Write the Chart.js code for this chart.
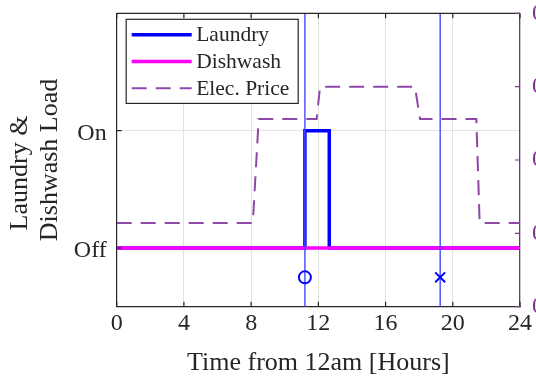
<!DOCTYPE html>
<html>
<head>
<meta charset="utf-8">
<script src="https://cdn.jsdelivr.net/npm/chart.js@4.4.1/dist/chart.umd.min.js"></script>
<style>
  body { margin: 0; background: #fff; }
  canvas { display: block; }
</style>
</head>
<body>
<canvas id="loadChart" width="536" height="383"></canvas>
<script>
// Hours on the x axis
const hourTicks = [0, 4, 8, 12, 16, 20, 24];

// Appliance states (0 = Off, 1 = On)
const stateLabels = ['Off', 'On'];
const laundryTimes = [0, 11.2, 11.2, 12.65, 12.65, 24];
const laundryState = [0, 0, 1, 1, 0, 0];
const dishTimes = [0, 24];
const dishState = [0, 0];

// Time-of-use electricity price
const priceTimes = [0, 8.1, 8.45, 11.9, 12.1, 17.75, 18.05, 21.4, 21.6, 24];
const priceValues = [0.057, 0.057, 0.128, 0.128, 0.15, 0.15, 0.128, 0.128, 0.057, 0.057];
const priceTicks = [0, 0.05, 0.1, 0.15, 0.2];

// Start / deadline markers
const startTime = 11.2;
const deadlineTime = 19.25;
const markerLevel = -0.25;

const stateMin = -0.5, stateMax = 2;
const axisColor = '#262626';
const purple = '#7e2f8e';
const serif = 'Liberation Serif';

const pts = (xs, ys) => xs.map((x, i) => ({ x: x, y: ys[i] }));

// keep tick labels from pushing the plot area around
const noPad = s => { s.paddingTop = 0; s.paddingBottom = 0; s.paddingLeft = 0; s.paddingRight = 0; };

// Frame, top border and inward tick marks
const frame = {
  id: 'frame',
  afterDatasetsDraw(chart) {
    const { ctx, chartArea: a, scales } = chart;
    const len = 5;
    ctx.save();
    ctx.lineWidth = 1.2;
    ctx.strokeStyle = axisColor;
    ctx.beginPath();
    ctx.moveTo(a.left, a.top);
    ctx.lineTo(a.right, a.top);
    scales.x.ticks.forEach(t => {
      const px = scales.x.getPixelForValue(t.value);
      ctx.moveTo(px, a.top); ctx.lineTo(px, a.top + len);
      ctx.moveTo(px, a.bottom); ctx.lineTo(px, a.bottom - len);
    });
    scales.y.ticks.forEach(t => {
      const py = scales.y.getPixelForValue(t.value);
      ctx.moveTo(a.left, py); ctx.lineTo(a.left + len, py);
    });
    ctx.stroke();
    ctx.strokeStyle = purple;
    ctx.beginPath();
    scales.y2.ticks.forEach(t => {
      const py = scales.y2.getPixelForValue(t.value);
      ctx.moveTo(a.right, py); ctx.lineTo(a.right - len, py);
    });
    ctx.stroke();
    ctx.restore();
  }
};

// Boxed legend in the upper left of the plot
const boxLegend = {
  id: 'boxLegend',
  afterDraw(chart) {
    const { ctx, chartArea: a } = chart;
    const items = chart.data.datasets.filter(d => d.label);
    const x0 = a.left + 9.5, y0 = a.top + 6;
    const w = 172, rowH = 26.7;
    const h = items.length * rowH + 4;
    ctx.save();
    ctx.fillStyle = '#fff';
    ctx.fillRect(x0, y0, w, h);
    ctx.lineWidth = 1.2;
    ctx.strokeStyle = axisColor;
    ctx.strokeRect(x0, y0, w, h);
    ctx.font = '21.5px "' + serif + '"';
    ctx.textBaseline = 'middle';
    items.forEach((d, i) => {
      const cy = y0 + 15.5 + i * rowH;
      ctx.beginPath();
      ctx.strokeStyle = d.borderColor;
      ctx.lineWidth = d.borderWidth;
      ctx.setLineDash(d.borderDash || []);
      ctx.moveTo(x0 + 5.5, cy);
      ctx.lineTo(x0 + 65.5, cy);
      ctx.stroke();
      ctx.setLineDash([]);
      ctx.fillStyle = axisColor;
      ctx.fillText(d.label, x0 + 70, cy + 1);
    });
    ctx.restore();
  }
};

new Chart(document.getElementById('loadChart'), {
  type: 'line',
  data: {
    datasets: [
      {
        label: 'Laundry',
        data: pts(laundryTimes, laundryState),
        borderColor: '#0000ff',
        borderWidth: 3.5,
        borderJoinStyle: 'miter',
        pointRadius: 0,
        yAxisID: 'y',
        order: 3
      },
      {
        label: 'Dishwash',
        data: pts(dishTimes, dishState),
        borderColor: '#ff00ff',
        borderWidth: 3.5,
        pointRadius: 0,
        yAxisID: 'y',
        order: 2
      },
      {
        label: 'Elec. Price',
        data: pts(priceTimes, priceValues),
        borderColor: '#8e47a6',
        borderWidth: 2,
        borderDash: [15, 9],
        pointRadius: 0,
        yAxisID: 'y2',
        order: 5
      },
      {
        data: pts([startTime, startTime], [stateMin, stateMax]),
        borderColor: '#4747ff',
        borderWidth: 1.4,
        pointRadius: 0,
        yAxisID: 'y',
        order: 1
      },
      {
        data: pts([deadlineTime, deadlineTime], [stateMin, stateMax]),
        borderColor: '#4747ff',
        borderWidth: 1.4,
        pointRadius: 0,
        yAxisID: 'y',
        order: 1
      },
      {
        data: pts([startTime], [markerLevel]),
        showLine: false,
        pointStyle: 'circle',
        pointRadius: 6,
        pointBorderWidth: 2,
        pointBorderColor: '#0000ff',
        pointBackgroundColor: 'rgba(0,0,0,0)',
        yAxisID: 'y',
        order: 0
      },
      {
        data: pts([deadlineTime], [markerLevel]),
        showLine: false,
        pointStyle: 'crossRot',
        pointRadius: 7,
        pointBorderWidth: 2,
        pointBorderColor: '#0000ff',
        yAxisID: 'y',
        order: 0
      }
    ]
  },
  options: {
    responsive: false,
    devicePixelRatio: 1,
    animation: false,
    layout: { padding: { top: 13.3 } },
    plugins: { legend: { display: false }, tooltip: { enabled: false } },
    scales: {
      x: {
        type: 'linear',
        min: 0,
        max: 24,
        afterBuildTicks: s => { s.ticks = hourTicks.map(v => ({ value: v })); },
        afterFit: s => { s.height = 76.3; noPad(s); },
        grid: { color: '#e3e3e3', lineWidth: 1, drawTicks: false },
        border: { color: axisColor, width: 1.2 },
        ticks: { color: axisColor, padding: 3, maxRotation: 0, font: { family: serif, size: 24 } },
        title: {
          display: true,
          text: 'Time from 12am [Hours]',
          color: axisColor,
          font: { family: serif, size: 26 },
          padding: { top: 0, bottom: 4 }
        }
      },
      y: {
        position: 'left',
        min: stateMin,
        max: stateMax,
        afterBuildTicks: s => { s.ticks = stateLabels.map((_, i) => ({ value: i })); },
        afterFit: s => { s.width = 116.7; noPad(s); },
        grid: { color: '#e3e3e3', lineWidth: 1, drawTicks: false },
        border: { color: axisColor, width: 1.2 },
        ticks: {
          color: axisColor,
          padding: 10,
          labelOffset: 3,
          font: { family: serif, size: 24 },
          callback: v => stateLabels[v]
        },
        title: {
          display: true,
          text: ['Laundry &    ', 'Dishwash Load'],
          color: axisColor,
          font: { family: serif, size: 26, lineHeight: 1.12 },
          padding: { top: 6, bottom: 0 }
        }
      },
      y2: {
        position: 'right',
        min: 0,
        max: 0.2,
        afterBuildTicks: s => { s.ticks = priceTicks.map(v => ({ value: v })); },
        afterFit: s => { s.width = 16; noPad(s); },
        grid: { display: false, drawTicks: false },
        border: { color: purple, width: 1.2 },
        ticks: { color: purple, padding: 12, font: { family: serif, size: 24 } }
      }
    }
  },
  plugins: [frame, boxLegend]
});
</script>
</body>
</html>
